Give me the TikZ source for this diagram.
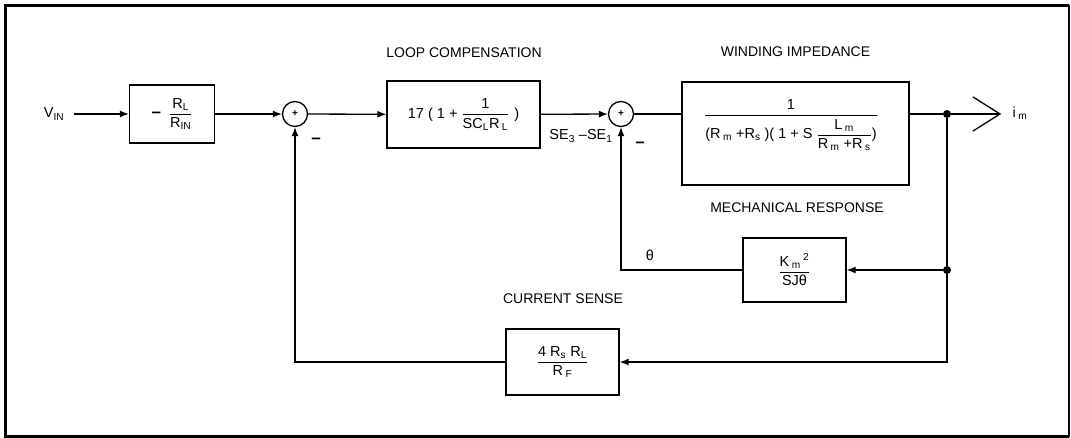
\documentclass[tikz,border=0pt]{standalone}
\usepackage{fontspec}
\setmainfont{Liberation Sans}
\usepackage{amsmath}
\usetikzlibrary{arrows.meta}
\newcommand{\fr}[2]{$\genfrac{}{}{0.9pt}{0}{\text{#1}}{\text{#2}}$}

\begin{document}
\begin{tikzpicture}[
      x=1pt, y=-1pt,
      every node/.style={align=center, font=\fontsize{14.5}{16}\selectfont},
      block/.style={draw, line width=1.3pt, inner sep=0pt},
      sum/.style={draw, circle, line width=1.3pt, minimum size=25pt, inner sep=0pt, font=\fontsize{10}{10}\selectfont\bfseries},
      title/.style={inner sep=0pt, font=\fontsize{14}{16}\selectfont},
      sign/.style={inner sep=0pt, font=\fontsize{17}{17}\selectfont\bfseries},
      dot/.style={fill, circle, inner sep=0pt, minimum size=8pt},
      wire/.style={line width=1.3pt},
      arrow/.style={wire, ->, >={Latex[length=9pt,width=7pt]}}
    ]
      \useasboundingbox (0,0) rectangle (1071,438);
      % frame
      \draw[line width=3pt] (1069,5.5) -- (5.5,5.5) -- (5.5,436.5) -- (1069,436.5);
      \draw[line width=1.2pt] (1069,5.5) -- (1069,436.5);
      % forward path
      \node (vin) at (54,114) {V\textsubscript{IN}};
      \node[block, minimum width=85pt, minimum height=58pt] (gain) at (172,114) {{\fontsize{17}{17}\selectfont\bfseries –}\hspace{8pt}\fr{R\textsubscript{L}}{R\textsubscript{IN}}};
      \node[sum] (sum1) at (295,114) {+};
      \node[block, minimum width=153pt, minimum height=67pt] (comp) at (463.5,114.5) {17 ( 1 + \fr{1}{SC\textsubscript{L}R\,\textsubscript{L}}\hspace{5pt})};
      \node[sum] (sum2) at (621,114) {+};
      \node[block, minimum width=227pt, minimum height=103pt] (wind) at (795.5,133.5) {};
      \node[anchor=base] (windf) at (791,119.5) {\fr{1}{(R\,\textsubscript{m} +R\textsubscript{s} )( 1 + S \fr{L\,\textsubscript{m}}{R\,\textsubscript{m} +R\,\textsubscript{s}})}};
      \node[dot] (dot1) at (947,114) {};
      \coordinate (tip) at (1000,114);
      \node (im) at (1020,113) {i\,\textsubscript{m}};
      % feedback path
      \node[dot] (dot2) at (947,270) {};
      \node[block, minimum width=103pt, minimum height=64pt] (mech) at (794.5,270) {\fr{K\,\textsubscript{m}\,\textsuperscript{2}}{SJθ}};
      \node[block, minimum width=113pt, minimum height=66pt] (sense) at (562.5,362) {\fr{4 R\textsubscript{s} R\textsubscript{L}}{R\,\textsubscript{F}}};
      % labels
      \node[title] (lcomp) at (464,53) {LOOP COMPENSATION};
      \node[title] (lwind) at (795.5,52) {WINDING IMPEDANCE};
      \node[title] (lmech) at (797,208) {MECHANICAL RESPONSE};
      \node[title] (lsense) at (563,299) {CURRENT SENSE};
      \node (theta) at (650,255) {θ};
      \node[sign] (minus1) at (316,141) {–};
      \node[sign] (minus2) at (640,145) {–};
      \node (se) at (581,136) {SE\textsubscript{3} –SE\textsubscript{1}};
      % connectors
      \draw[arrow, shorten <=6pt] (vin) -- (gain);
      \draw[arrow] (gain) -- (sum1);
      \draw[arrow] (sum1) -- (comp);
      \draw[arrow] (comp) -- (sum2);
      \draw[wire] (sum2) -- (sum2 -| wind.west);
      \draw[wire] (dot1 -| wind.east) -- (dot1) -- (tip);
      \draw[wire] (tip) ++(-27,-17) -- (tip) -- ++(-27,17);
      \draw[arrow] (dot2) -- (mech);
      \draw[arrow] (dot1) |- (sense);
      \draw[arrow] (mech) -| (sum2);
      \draw[arrow] (sense) -| (sum1);
    \end{tikzpicture}
\end{document}
